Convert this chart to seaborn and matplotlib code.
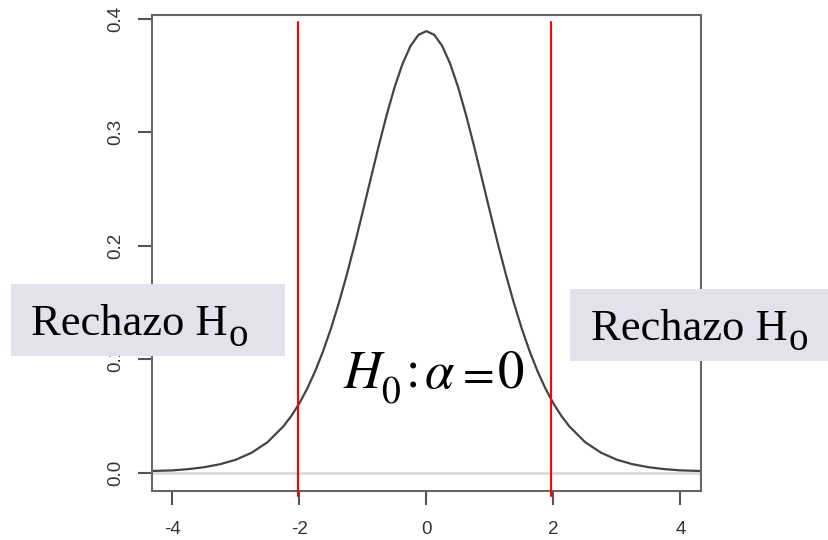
import matplotlib
matplotlib.use("Agg")
import matplotlib.pyplot as plt
import seaborn as sns
import pandas as pd
from matplotlib.patches import Rectangle

sns.set_theme(style="white")
plt.rcParams['font.family'] = ['Liberation Sans', 'DejaVu Sans']

# density curve
x_vals = [-4.3, -4.0, -3.75, -3.5, -3.25, -3.0, -2.75, -2.5, -2.25, -2.125, -2.0,
          -1.875, -1.75, -1.625, -1.5, -1.375, -1.25, -1.125, -1.0, -0.875, -0.75,
          -0.625, -0.5, -0.375, -0.25, -0.125, 0.0, 0.125, 0.25, 0.375, 0.5, 0.625,
          0.75, 0.875, 1.0, 1.125, 1.25, 1.375, 1.5, 1.625, 1.75, 1.875, 2.0, 2.125,
          2.25, 2.5, 2.75, 3.0, 3.25, 3.5, 3.75, 4.0, 4.3]
dens = [0.0015, 0.0020, 0.0031, 0.0048, 0.0074, 0.0114, 0.0176, 0.0269, 0.0409,
        0.0501, 0.0611, 0.0742, 0.0895, 0.1072, 0.1274, 0.1501, 0.1751, 0.2020,
        0.2304, 0.2593, 0.2880, 0.3152, 0.3397, 0.3603, 0.3760, 0.3858, 0.3891,
        0.3858, 0.3760, 0.3603, 0.3397, 0.3152, 0.2880, 0.2593, 0.2304, 0.2020,
        0.1751, 0.1501, 0.1274, 0.1072, 0.0895, 0.0742, 0.0611, 0.0501, 0.0409,
        0.0269, 0.0176, 0.0114, 0.0074, 0.0048, 0.0031, 0.0020, 0.0015]
crit = [-2.02, 1.96]
crit_span = [-0.021, 0.397]
xticks = [-4, -2, 0, 2, 4]
yticks = [0.0, 0.1, 0.2, 0.3, 0.4]
label_main = 'Rechazo H'
label_sub = 'o'

df = pd.DataFrame({'x': x_vals, 'y': dens})

fig = plt.figure(figsize=(8.29, 5.40), dpi=100)
ax = fig.add_axes([0.1834, 0.0913, 0.6618, 0.8809])

ax.axhline(0, color='#d9d9d9', lw=2, zorder=1)
sns.lineplot(data=df, x='x', y='y', ax=ax, color='#444444', lw=1.6, zorder=2)
for c in crit:
    ax.plot([c, c], crit_span, color='red', lw=1.5, clip_on=False, zorder=3)

ax.set_xlim(-4.32, 4.32)
ax.set_ylim(-0.0159, 0.4033)
ax.set_xticks(xticks)
ax.set_xticklabels([str(t) for t in xticks])
ax.set_yticks(yticks)
ax.set_yticklabels(['%.1f' % t for t in yticks], rotation=90, va='center')
ax.set_xlabel('')
ax.set_ylabel('')
ax.tick_params(axis='both', direction='out', length=10, width=1.5,
               color='#555555', labelcolor='#333333', labelsize=13.5,
               bottom=True, left=True)
ax.tick_params(axis='x', pad=11.5)
ax.tick_params(axis='y', pad=10)
for s in ax.spines.values():
    s.set_color('#666666')
    s.set_linewidth(1.5)

# lavender label boxes
W, H = 829.0, 540.0
for (x0, y0, x1, y1) in [(11, 284, 285, 356), (570, 289, 829, 361)]:
    fig.patches.append(Rectangle((x0 / W, 1 - y1 / H), (x1 - x0) / W, (y1 - y0) / H,
                                 transform=fig.transFigure, facecolor='#e4e0ec',
                                 edgecolor='none', zorder=5))

def ptext(x, y, s, size, **kw):
    fig.text(x / W, 1 - y / H, s, fontsize=size, color='black',
             va='baseline', ha=kw.pop('ha', 'left'), zorder=6, **kw)

# "Rechazo Ho" labels
ptext(31, 335, label_main, 32, family='Liberation Serif')
ptext(229, 346, label_sub, 28, family='Liberation Serif')
ptext(591, 340, label_main, 32, family='Liberation Serif')
ptext(789, 350, label_sub, 28, family='Liberation Serif')

# H0 : alpha = 0
ptext(343, 388, 'H', 38, family='STIXGeneral', style='italic')
ptext(381, 403, '0', 27, family='STIXGeneral')
ptext(406, 388, ':', 38, family='STIXGeneral')
ptext(425, 388, '\u03b1', 38, family='STIXGeneral', style='italic')
ptext(479, 388, '=', 33, family='STIXGeneral', ha='center')
ptext(498, 388, '0', 38, family='STIXGeneral')

fig.savefig('out.png', dpi=100)
